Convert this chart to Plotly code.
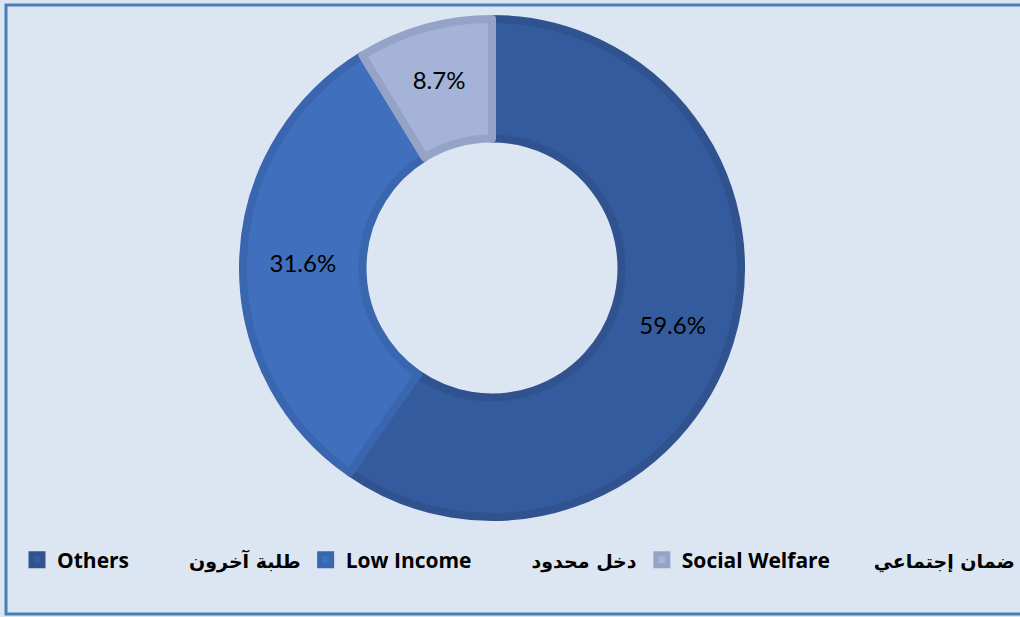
import plotly.graph_objects as go

categories_en = ["Others", "Low Income", "Social Welfare"]
categories_ar = ["طلبة آخرون", "دخل محدود", "ضمان إجتماعي"]
values = [59.6, 31.6, 8.7]

fill_colors = ["#355b9f", "#3f6fbd", "#a5b3d8"]
edge_colors = ["#30538f", "#3a66b0", "#95a3c6"]

NB = "\u00a0"
inner_gaps = [11, 11, 8]
names = [
    f"<b>{en}</b>{NB * g}<span style='font-family:DejaVu Sans;font-size:19px'><b>{ar}</b></span>"
    for en, ar, g in zip(categories_en, categories_ar, inner_gaps)
]

W, H = 1020, 617
cx, cy, R = 492, 268, 249

fig = go.Figure()
fig.add_trace(go.Pie(
    labels=names,
    values=values,
    sort=False,
    direction="clockwise",
    rotation=0,
    hole=0.52,
    marker=dict(colors=fill_colors, line=dict(color=edge_colors, width=8)),
    texttemplate="%{value:.1f}%",
    textposition="inside",
    insidetextorientation="horizontal",
    textfont=dict(family="Lato, DejaVu Sans, sans-serif", size=24, color="#000000"),
    hoverinfo="label+percent",
    domain=dict(x=[(cx - R) / W, (cx + R) / W], y=[1 - (cy + R) / H, 1 - (cy - R) / H]),
    showlegend=True,
))

fig.update_layout(
    width=W, height=H,
    margin=dict(l=0, r=0, t=0, b=0),
    paper_bgcolor="#dce6f2",
    plot_bgcolor="#dce6f2",
    legend=dict(
        orientation="h",
        x=25 / W, xanchor="left",
        y=1 - 560 / H, yanchor="middle",
        font=dict(family="Open Sans, DejaVu Sans, sans-serif", size=21, color="#000000", weight="bold"),
        bgcolor="rgba(0,0,0,0)",
        itemwidth=30,
        traceorder="normal",
    ),
    shapes=[dict(
        type="rect", xref="paper", yref="paper",
        x0=6 / W, x1=1.02, y0=1 - 614 / H, y1=1 - 5 / H,
        line=dict(color="#4a7ebb", width=3), fillcolor="rgba(0,0,0,0)",
        layer="above",
    )],
)

fig.write_html(
    "out.html",
    config={"displayModeBar": False},
    post_script="document.body.style.margin='0px';document.body.style.background='#dce6f2';document.body.style.overflow='hidden';",
)
